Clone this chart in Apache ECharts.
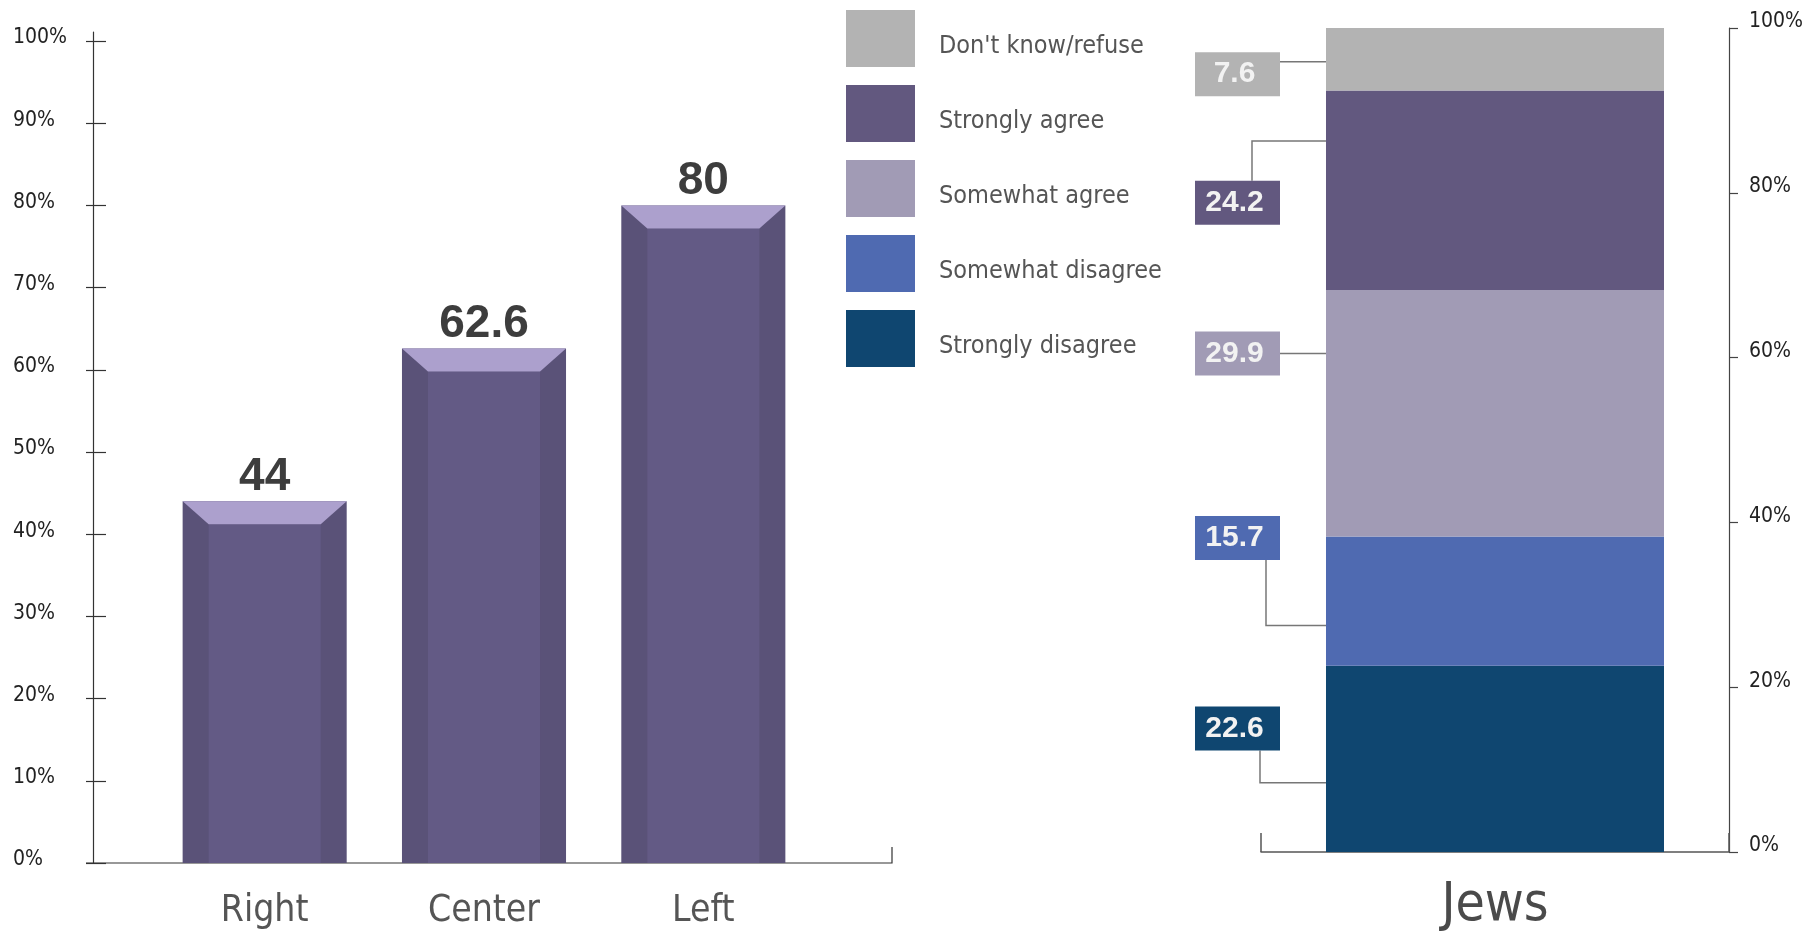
<!DOCTYPE html>
<html>
<head>
<meta charset="utf-8">
<title>Right / Center / Left and Jews</title>
<script src="https://cdn.jsdelivr.net/npm/echarts@6/dist/echarts.min.js"></script>
<style>
  html, body { margin: 0; padding: 0; background: #fff; }
  #chart { width: 1806px; height: 933px; }
</style>
</head>
<body>
<div id="chart"></div>
<script>
// data
const leftCategories = ['Right', 'Center', 'Left'];
const leftValues = [44, 62.6, 80];
const leftTicks = [0, 10, 20, 30, 40, 50, 60, 70, 80, 90, 100];

const rightCategories = ['Jews'];
const answerNames = ['Strongly disagree', 'Somewhat disagree', 'Somewhat agree', 'Strongly agree', "Don't know/refuse"];
const answerValues = [22.6, 15.7, 29.9, 24.2, 7.6];
const rightTicks = [0, 20, 40, 60, 80, 100];
const legendOrder = ["Don't know/refuse", 'Strongly agree', 'Somewhat agree', 'Somewhat disagree', 'Strongly disagree'];

// colours
const answerColors = ['#0f4670', '#4f6ab1', '#a19bb5', '#62587f', '#b3b3b3'];
const barSide = '#5a5278';
const barFace = '#635a85';
const barCap = '#aca0cd';

// callout boxes: box centre and leader end (axis units), elbow x from the bar edge
const callouts = [
  { boxAt: 15.0, lineAt: 8.4, elbow: 66 },
  { boxAt: 38.1, lineAt: 27.5, elbow: 60 },
  { boxAt: 60.5, lineAt: 60.5, elbow: null },
  { boxAt: 78.8, lineAt: 86.3, elbow: 74 },
  { boxAt: 94.4, lineAt: 95.9, elbow: null }
];

const narrow = '"Liberation Sans Narrow", "DejaVu Sans Condensed", "Arial Narrow", sans-serif';
const rightBarWidth = 338;

// bar with bevelled sides and a light top cap
function renderBevelBar(params, api) {
  const top = api.coord([api.value(0), api.value(1)]);
  const base = api.coord([api.value(0), 0]);
  const w = api.size([1, 0])[0] * 0.748;
  const side = 26, cap = 23;
  const x0 = top[0] - w / 2;
  const h = base[1] - top[1];
  return {
    type: 'group',
    children: [
      { type: 'rect', shape: { x: x0, y: top[1], width: w, height: h }, style: { fill: barSide } },
      { type: 'rect', shape: { x: x0 + side, y: top[1] + cap, width: w - 2 * side, height: h - cap }, style: { fill: barFace } },
      { type: 'polygon', shape: { points: [[x0, top[1]], [x0 + w, top[1]], [x0 + w - side, top[1] + cap], [x0 + side, top[1] + cap]] }, style: { fill: barCap } },
      { type: 'text', style: { text: String(api.value(1)), x: top[0], y: top[1] - 1, align: 'center', verticalAlign: 'bottom',
          font: 'bold 46px "Liberation Sans", sans-serif', fill: '#3d3d3d' } }
    ]
  };
}

function renderCallout(params, api) {
  const i = params.dataIndex;
  const c = callouts[i];
  const barLeft = api.coord([0, 0])[0] - rightBarWidth / 2;
  const boxRight = barLeft - 46, boxW = 85, boxH = 44;
  const boxY = api.coord([0, c.boxAt])[1];
  const lineY = api.coord([0, c.lineAt])[1];
  const boxTop = boxY - boxH / 2, boxBottom = boxY + boxH / 2;
  let points;
  if (c.elbow == null) {
    points = [[boxRight, lineY], [barLeft, lineY]];
  } else {
    const ex = barLeft - c.elbow;
    const ey = lineY < boxTop ? boxTop : boxBottom;
    points = [[ex, ey], [ex, lineY], [barLeft, lineY]];
  }
  return {
    type: 'group',
    children: [
      { type: 'polyline', shape: { points: points }, style: { stroke: '#777', lineWidth: 1.5, fill: 'none' } },
      { type: 'rect', shape: { x: boxRight - boxW, y: boxTop, width: boxW, height: boxH }, style: { fill: answerColors[i] } },
      { type: 'text', style: { text: String(api.value(1)), x: boxRight - boxW / 2 - 3, y: boxY, align: 'center', verticalAlign: 'middle',
          font: 'bold 30px "Liberation Sans", sans-serif', fill: '#f2f2f2' } }
    ]
  };
}

const chart = echarts.init(document.getElementById('chart'));

const option = {
  animation: false,
  backgroundColor: '#fff',
  textStyle: { fontFamily: narrow },
  grid: [
    { left: 155, right: 993, top: 32, bottom: 70 },
    { left: 1261, right: 76, top: 28, bottom: 81 }
  ],
  legend: {
    data: legendOrder,
    orient: 'vertical',
    left: 846,
    top: 10,
    padding: 0,
    itemWidth: 69,
    itemHeight: 57,
    itemGap: 18,
    icon: 'rect',
    selectedMode: false,
    formatter: '{t|{name}}',
    textStyle: {
      fontSize: 25, color: '#555', fontFamily: narrow,
      rich: { t: { fontSize: 25, color: '#555', fontFamily: narrow, padding: [16, 0, 0, 19] } }
    }
  },
  xAxis: [
    {
      type: 'category', gridIndex: 0, data: leftCategories,
      axisLine: { show: false }, axisTick: { show: false },
      axisLabel: { fontSize: 37, color: '#555', margin: 30, fontFamily: narrow }
    },
    {
      type: 'category', gridIndex: 1, data: rightCategories,
      axisLine: { lineStyle: { color: '#555', width: 1.5 } },
      axisTick: { show: true, inside: true, length: 19, lineStyle: { color: '#555', width: 1.5 } },
      axisLabel: { fontSize: 53, color: '#4a4a4a', margin: 28, fontFamily: narrow }
    }
  ],
  yAxis: [
    {
      type: 'value', gridIndex: 0, position: 'left', min: 0, max: 101.1, offset: 62,
      axisLine: { show: true, lineStyle: { color: '#333', width: 1.2 } },
      axisTick: { show: true, inside: true, length: 13, customValues: leftTicks, lineStyle: { color: '#333', width: 1.2 } },
      axisLabel: { customValues: leftTicks, formatter: '{value}%', align: 'left', margin: 80, fontSize: 21,
        color: '#222', fontFamily: narrow, verticalAlign: 'bottom', lineHeight: 6 },
      splitLine: { show: false }
    },
    {
      type: 'value', gridIndex: 0, position: 'left', min: 0, max: 101.1, offset: 62,
      axisLine: { show: false },
      axisTick: { show: true, length: 7, customValues: leftTicks, lineStyle: { color: '#333', width: 1.2 } },
      axisLabel: { show: false },
      splitLine: { show: false }
    },
    {
      type: 'value', gridIndex: 1, position: 'right', min: 0, max: 100, interval: 20,
      axisLine: { show: true, lineStyle: { color: '#444', width: 1.2 } },
      axisTick: { show: true, length: 9, customValues: rightTicks, lineStyle: { color: '#444', width: 1.2 } },
      axisLabel: { customValues: rightTicks, formatter: '{value}%', margin: 20, fontSize: 21, color: '#222',
        fontFamily: narrow, verticalAlign: 'bottom', lineHeight: 12 },
      splitLine: { show: false }
    }
  ],
  series: [
    {
      type: 'custom', name: 'ideology', xAxisIndex: 0, yAxisIndex: 0,
      data: leftValues.map((v, i) => [i, v]),
      renderItem: renderBevelBar
    }
  ].concat(answerNames.map((name, i) => ({
    type: 'bar', name: name, stack: 'jews', xAxisIndex: 1, yAxisIndex: 2,
    barWidth: rightBarWidth,
    itemStyle: { color: answerColors[i] },
    data: [answerValues[i]]
  }))).concat([
    {
      type: 'custom', name: 'callouts', xAxisIndex: 1, yAxisIndex: 2, z: 5,
      data: answerValues.map(v => [0, v]),
      renderItem: renderCallout
    }
  ])
};

chart.setOption(option);

// left baseline reaches past the category band on both sides, with a small end tick
const y0 = chart.convertToPixel({ yAxisIndex: 0 }, 0);
chart.setOption({
  graphic: [
    { type: 'polyline', shape: { points: [[86, y0], [892, y0], [892, y0 - 16]] },
      style: { stroke: '#333', lineWidth: 1.2, fill: 'none' } }
  ]
});
</script>
</body>
</html>
